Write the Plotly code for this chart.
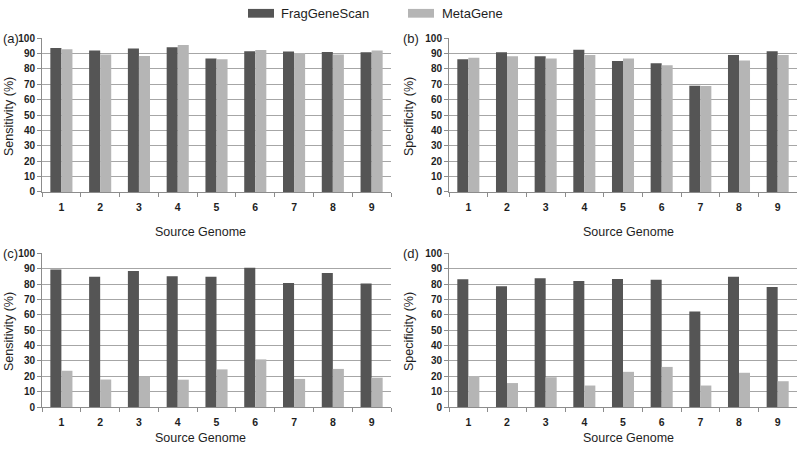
import plotly.graph_objects as go

genomes = ["1", "2", "3", "4", "5", "6", "7", "8", "9"]

# (a) Sensitivity, panel a
a_fgs = [93.5, 92.0, 93.3, 94.0, 86.8, 91.5, 91.3, 91.0, 90.8]
a_mg = [92.8, 89.3, 88.3, 95.5, 86.2, 92.2, 90.3, 89.3, 92.0]
# (b) Specificity, panel b
b_fgs = [86.2, 90.8, 88.2, 92.4, 85.1, 83.6, 69.1, 89.1, 91.5]
b_mg = [87.2, 88.2, 86.8, 89.1, 86.8, 82.4, 68.9, 85.5, 89.0]
# (c) Sensitivity, panel c
c_fgs = [89.5, 84.7, 88.4, 85.0, 84.7, 90.6, 80.6, 87.2, 80.4]
c_mg = [23.6, 17.9, 20.0, 17.8, 24.5, 31.0, 18.3, 24.8, 19.1]
# (d) Specificity, panel d
d_fgs = [83.1, 78.5, 83.7, 81.9, 83.3, 82.7, 62.1, 84.7, 78.1]
d_mg = [20.2, 15.6, 19.4, 14.0, 22.9, 26.1, 14.0, 22.3, 16.8]

series_names = ["FragGeneScan", "MetaGene"]
panel_letters = ["(a)", "(b)", "(c)", "(d)"]
y_titles = ["Sensitivity (%)", "Specificity (%)", "Sensitivity (%)", "Specificity (%)"]
x_title = "Source Genome"
y_ticks = [0, 10, 20, 30, 40, 50, 60, 70, 80, 90, 100]

DARK = "#555555"
LIGHT = "#b5b5b5"
GRID = "#a6a6a6"
AXIS = "#8c8c8c"
TXT = "#1e1e1e"
FONT = "Liberation Sans, Arial, sans-serif"

W, H = 800, 452

def px_x(v):
    return v / W

def px_y(v):
    return 1 - v / H

# panel geometry in pixels: (x0, x1, ytop, ybottom, x-title centre y)
panels = [
    (42, 391, 33, 191, 232),
    (449, 797, 33, 191, 232),
    (42, 391, 254, 412, 444),
    (449, 797, 254, 412, 444),
]
data = [(a_fgs, a_mg), (b_fgs, b_mg), (c_fgs, c_mg), (d_fgs, d_mg)]

fig = go.Figure()
layout = {}
annotations = []
for i, ((x0, x1, yt, yb, ty), (fgs, mg)) in enumerate(zip(panels, data)):
    n = "" if i == 0 else str(i + 1)
    xa, ya = "x" + n, "y" + n
    fig.add_trace(go.Bar(x=genomes, y=fgs, name=series_names[0], marker_color=DARK,
                         marker_line_width=0, xaxis=xa, yaxis=ya, showlegend=False))
    fig.add_trace(go.Bar(x=genomes, y=mg, name=series_names[1], marker_color=LIGHT,
                         marker_line_width=0, xaxis=xa, yaxis=ya, showlegend=False))
    layout["xaxis" + n] = dict(
        domain=[px_x(x0), px_x(x1)], anchor=ya, type="category",
        showline=True, linecolor=AXIS, linewidth=1,
        ticks="outside", tickson="boundaries", ticklen=4, tickcolor=AXIS,
        ticklabelstandoff=5,
        tickfont=dict(family=FONT, size=10.5, color=TXT, weight="bold"),
        showgrid=False, fixedrange=True,
    )
    layout["yaxis" + n] = dict(
        domain=[px_y(yb), px_y(yt)], anchor=xa, range=[0, 100],
        tickvals=y_ticks, showline=True, linecolor=AXIS, linewidth=1,
        ticks="outside", ticklen=4, tickcolor=AXIS,
        showgrid=True, gridcolor=GRID, gridwidth=1,
        tickfont=dict(family=FONT, size=10, color=TXT, weight="bold"),
        zeroline=False, fixedrange=True,
    )
    left = 0 if x0 < 400 else 400
    # panel letter
    annotations.append(dict(text=panel_letters[i], x=px_x(left + 1), y=px_y(yt), xref="paper", yref="paper",
                            xanchor="left", yanchor="middle", showarrow=False,
                            font=dict(family=FONT, size=13, color=TXT)))
    # y title
    annotations.append(dict(text=y_titles[i], x=px_x(left + 9), y=px_y((yt + yb) / 2 + 2), xref="paper", yref="paper",
                            xanchor="center", yanchor="middle", textangle=-90, showarrow=False,
                            font=dict(family=FONT, size=12.5, color=TXT)))
    # x title
    xc = 200 if x0 < 400 else 628
    annotations.append(dict(text=x_title, x=px_x(xc), y=px_y(ty), xref="paper", yref="paper",
                            xanchor="center", yanchor="middle", showarrow=False,
                            font=dict(family=FONT, size=12.5, color=TXT)))

# legend (drawn manually to match the reference swatches)
shapes = [
    dict(type="rect", xref="paper", yref="paper", x0=px_x(248), x1=px_x(274), y0=px_y(12), y1=px_y(3),
         fillcolor=DARK, line_width=0),
    dict(type="rect", xref="paper", yref="paper", x0=px_x(408), x1=px_x(434), y0=px_y(12), y1=px_y(3),
         fillcolor=LIGHT, line_width=0),
]
annotations.append(dict(text=series_names[0], x=px_x(279), y=px_y(8), xref="paper", yref="paper",
                        xanchor="left", yanchor="middle", showarrow=False,
                        font=dict(family=FONT, size=13, color=TXT)))
annotations.append(dict(text=series_names[1], x=px_x(440), y=px_y(8), xref="paper", yref="paper",
                        xanchor="left", yanchor="middle", showarrow=False,
                        font=dict(family=FONT, size=13, color=TXT)))

fig.update_layout(
    **layout,
    width=W, height=H,
    margin=dict(l=0, r=0, t=0, b=0),
    paper_bgcolor="white", plot_bgcolor="white",
    barmode="group", bargap=0.43, bargroupgap=0,
    annotations=annotations, shapes=shapes,
    showlegend=False,
    font=dict(family=FONT, color=TXT),
)

fig.write_html(
    "out.html",
    config={"displayModeBar": False},
    post_script="document.body.style.margin='0';document.body.style.overflow='hidden';",
)
